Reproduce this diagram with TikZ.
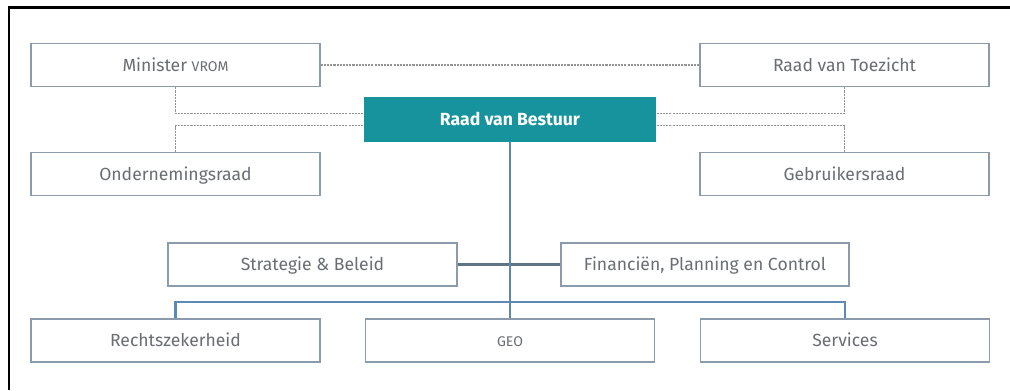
\documentclass[tikz,border=0pt]{standalone}
\usepackage{fontspec}
\setmainfont{Fira Sans}
\usepackage{tikz}
\usetikzlibrary{calc}
\definecolor{boxline}{HTML}{8C9BAB}
\definecolor{boxtext}{HTML}{6A6E73}
\definecolor{teal}{HTML}{17939D}
\definecolor{linkdark}{HTML}{5F7484}
\definecolor{linkblue}{HTML}{5C8AB5}
\tikzset{
  unit/.style={draw=boxline,line width=0.9pt,fill=white,text=boxtext,font=\fontsize{10}{12}\selectfont,
    minimum width=5.78cm,minimum height=0.86cm,inner sep=0pt,text height=1.6ex,text depth=0.3ex},
  board/.style={unit,draw=teal,fill=teal,text=white,font=\fontsize{10}{12}\selectfont\bfseries,minimum width=5.8cm},
  advise/.style={draw=gray!85,line width=0.6pt,dash pattern=on 1.2pt off 0.6pt},
  lead/.style={draw=linkdark,line width=1.2pt},
  bus/.style={draw=linkblue,line width=1.4pt}
}
\begin{document}
\begin{tikzpicture}[x=0.02cm,y=-0.02cm]
\useasboundingbox (0,0) rectangle (1010,390);
\draw[line width=1.7pt] (1010,7)--(9,7)--(9,390);
% boards
\node[unit] (min) at (175.5,65) {Minister {\fontsize{8}{10}\selectfont VROM}};
\node[unit] (rvt) at (844.5,65) {Raad van Toezicht};
\node[board] (rvb) at (510,119.5) {Raad van Bestuur};
\node[unit] (or) at (175.5,174) {Ondernemingsraad};
\node[unit] (gr) at (844.5,174) {Gebruikersraad};
% staff
\node[unit] (sb) at (312.5,264.5) {Strategie \& Beleid};
\node[unit,minimum width=5.76cm] (fpc) at (705,264.5) {Financiën, Planning en Control};
% line
\node[unit] (rz) at (175.5,340.5) {Rechtszekerheid};
\node[unit] (geo) at (510,340.5) {{\fontsize{8}{10}\selectfont GEO}};
\node[unit] (srv) at (845,340.5) {Services};
\coordinate (busmid) at (510,302);
% dotted relations
\draw[advise] (min.east)--(rvt.west);
\draw[advise] (min.south) |- ([yshift=0.12cm]rvb.west);
\draw[advise] (or.north) |- ([yshift=-0.12cm]rvb.west);
\draw[advise] (rvt.south) |- ([yshift=0.12cm]rvb.east);
\draw[advise] (gr.north) |- ([yshift=-0.12cm]rvb.east);
% solid lines
\draw[bus] (rz.north) |- (busmid) -| (srv.north);
\draw[lead] (sb.east)--(fpc.west);
\draw[lead,draw=linkblue!80!linkdark] (rvb.south)--(geo.north);
\end{tikzpicture}
\end{document}
